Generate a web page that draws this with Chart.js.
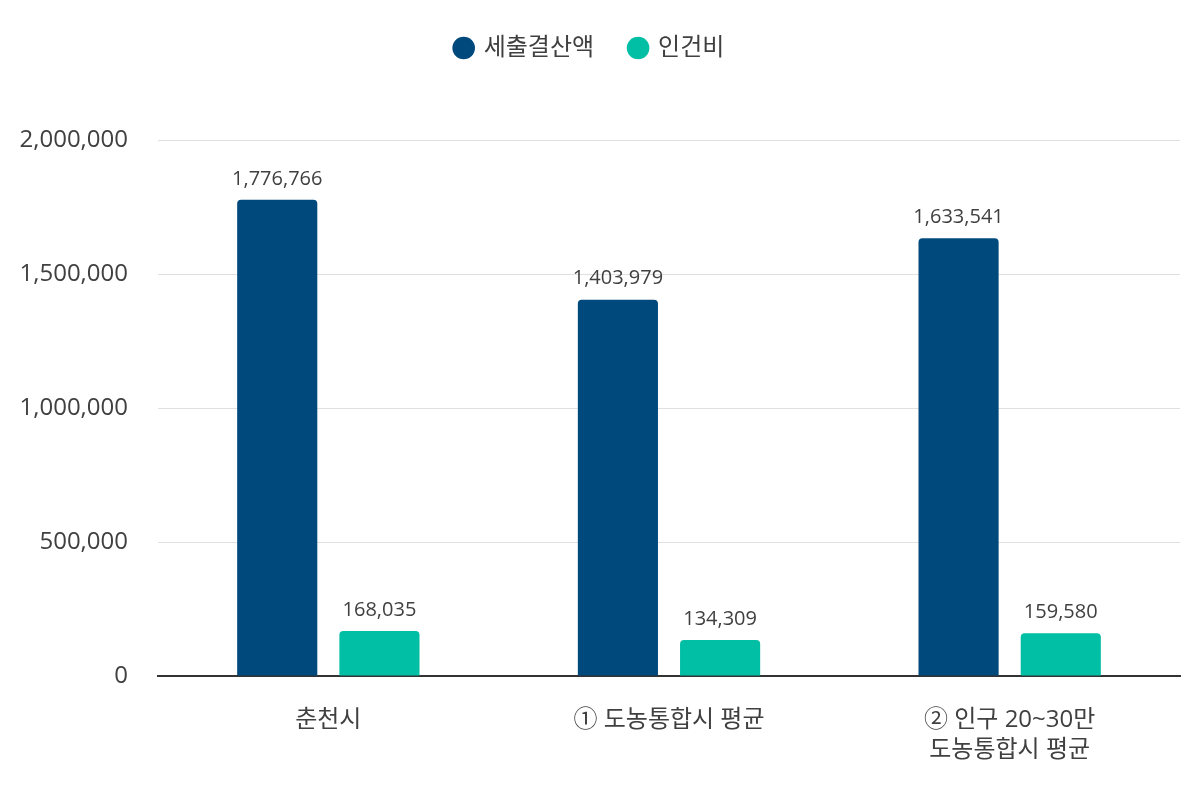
<!doctype html>
<html lang="ko">
<head>
<meta charset="utf-8">
<title>세출결산액 / 인건비</title>
<script src="https://cdn.jsdelivr.net/npm/chart.js"></script>
<style>
  html, body { margin: 0; padding: 0; background: #fff; }
  #wrap { width: 1200px; height: 800px; }
</style>
</head>
<body>
<div id="wrap"><canvas id="chart"></canvas></div>
<script>
const categories = [["춘천시"], ["① 도농통합시 평균"], ["② 인구 20~30만", "도농통합시 평균"]];
const spending = [1776766, 1403979, 1633541];
const personnel = [168035, 134309, 159580];
const seriesNames = ["세출결산액", "인건비"];
const yTicks = [0, 500000, 1000000, 1500000, 2000000];

const FONT = "'Open Sans', 'Noto Sans CJK KR', sans-serif";

// simple value labels above bars
const barLabels = {
  id: "barLabels",
  afterDatasetsDraw(chart) {
    const ctx = chart.ctx;
    ctx.save();
    ctx.font = "20px " + FONT;
    ctx.fillStyle = "#404040";
    ctx.textAlign = "center";
    ctx.textBaseline = "bottom";
    chart.data.datasets.forEach((ds, i) => {
      chart.getDatasetMeta(i).data.forEach((bar, j) => {
        ctx.fillText(ds.data[j].toLocaleString("en-US"), bar.x, bar.y - 11);
      });
    });
    ctx.restore();
  }
};

// extra space under the legend
const legendSpace = {
  id: "legendSpace",
  beforeInit(chart) {
    const fit = chart.legend.fit;
    chart.legend.fit = function () {
      fit.call(this);
      this.height += 70;
    };
  }
};

new Chart(document.getElementById("chart"), {
  type: "bar",
  data: {
    labels: categories,
    datasets: [
      { label: seriesNames[0], data: spending, backgroundColor: "#00497c",
        borderRadius: { topLeft: 4, topRight: 4 }, borderSkipped: "bottom" },
      { label: seriesNames[1], data: personnel, backgroundColor: "#00bfa5",
        borderRadius: { topLeft: 4, topRight: 4 }, borderSkipped: "bottom" }
    ]
  },
  options: {
    responsive: true,
    maintainAspectRatio: false,
    animation: false,
    layout: { padding: { left: 0, right: 20, top: 0, bottom: 6 } },
    datasets: { bar: { categoryPercentage: 0.6, barPercentage: 0.784 } },
    plugins: {
      legend: {
        position: "top",
        labels: {
          usePointStyle: true,
          pointStyle: "circle",
          boxWidth: 16,
          boxHeight: 16,
          padding: 36,
          color: "#404040",
          font: { family: FONT, size: 24 }
        }
      },
      tooltip: { enabled: false }
    },
    scales: {
      x: {
        grid: { display: false, drawTicks: false },
        border: { color: "#333", width: 2 },
        ticks: { color: "#404040", padding: 29, font: { family: FONT, size: 24, lineHeight: 1.25 } }
      },
      y: {
        min: 0,
        max: 2000000,
        afterBuildTicks: (axis) => { axis.ticks = yTicks.map(v => ({ value: v })); },
        afterFit: (axis) => { axis.width = 158; },
        grid: { color: "#e0e0e0", drawTicks: false },
        border: { display: false },
        ticks: {
          color: "#404040",
          padding: 30,
          font: { family: FONT, size: 24 },
          callback: (v) => v.toLocaleString("en-US")
        }
      }
    }
  },
  plugins: [barLabels, legendSpace]
});
</script>
</body>
</html>
